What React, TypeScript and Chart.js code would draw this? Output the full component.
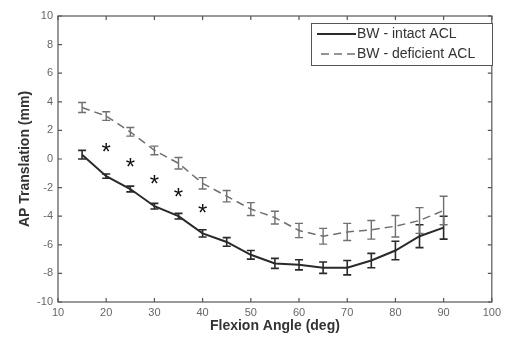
import React, { useEffect, useRef } from "react";
import { Chart, registerables } from "chart.js";

Chart.register(...registerables);

const angles = [15, 20, 25, 30, 35, 40, 45, 50, 55, 60, 65, 70, 75, 80, 85, 90];
const intactMean = [0.3, -1.2, -2.1, -3.3, -4.0, -5.2, -5.8, -6.7, -7.3, -7.4, -7.6, -7.6, -7.1, -6.4, -5.4, -4.8];
const intactErr = [0.3, 0.15, 0.2, 0.2, 0.2, 0.25, 0.3, 0.3, 0.35, 0.35, 0.4, 0.5, 0.5, 0.65, 0.8, 0.8];
const deficientMean = [3.6, 3.0, 1.9, 0.6, -0.3, -1.7, -2.6, -3.5, -4.1, -5.0, -5.4, -5.1, -4.95, -4.7, -4.3, -3.6];
const deficientErr = [0.35, 0.3, 0.3, 0.3, 0.4, 0.4, 0.4, 0.45, 0.45, 0.5, 0.55, 0.6, 0.65, 0.75, 0.9, 1.0];
const starAngles = [20, 25, 30, 35, 40];
const starValues = [0.8, -0.25, -1.5, -2.4, -3.5];
const xTicks = [10, 20, 30, 40, 50, 60, 70, 80, 90, 100];
const yTicks = [-10, -8, -6, -4, -2, 0, 2, 4, 6, 8, 10];
const seriesLabels = ["BW - intact ACL", "BW - deficient ACL"];

const FONT = "'Liberation Sans', Arial, sans-serif";
const INTACT_COLOR = "#2a2a2a";
const DEF_COLOR = "#707070";
const AXIS_COLOR = "#555555";

const overlayPlugin = {
  id: "overlay",
  afterDatasetsDraw(chart: any) {
    const ctx = chart.ctx;
    const xs = chart.scales.x;
    const ys = chart.scales.y;
    ctx.save();
    const series = [
      { mean: intactMean, err: intactErr, color: INTACT_COLOR, w: 1.6 },
      { mean: deficientMean, err: deficientErr, color: DEF_COLOR, w: 1.4 },
    ];
    series.forEach((s) => {
      ctx.strokeStyle = s.color;
      ctx.lineWidth = s.w;
      ctx.setLineDash([]);
      angles.forEach((a, i) => {
        const px = xs.getPixelForValue(a);
        const top = ys.getPixelForValue(s.mean[i] + s.err[i]);
        const bot = ys.getPixelForValue(s.mean[i] - s.err[i]);
        ctx.beginPath();
        ctx.moveTo(px, top);
        ctx.lineTo(px, bot);
        ctx.moveTo(px - 4, top);
        ctx.lineTo(px + 4, top);
        ctx.moveTo(px - 4, bot);
        ctx.lineTo(px + 4, bot);
        ctx.stroke();
      });
    });
    ctx.fillStyle = "#111";
    ctx.font = `24px ${FONT}`;
    ctx.textAlign = "center";
    ctx.textBaseline = "alphabetic";
    starAngles.forEach((a, i) => {
      const px = xs.getPixelForValue(a);
      const py = ys.getPixelForValue(starValues[i]);
      ctx.fillText("*", px, py + 12);
    });
    ctx.restore();
  },
  afterDraw(chart: any) {
    const ctx = chart.ctx;
    const xs = chart.scales.x;
    const ys = chart.scales.y;
    const a = chart.chartArea;
    ctx.save();
    ctx.strokeStyle = AXIS_COLOR;
    ctx.lineWidth = 1.2;
    ctx.setLineDash([]);
    ctx.strokeRect(a.left, a.top, a.right - a.left, a.bottom - a.top);
    const tl = 4;
    ctx.beginPath();
    xTicks.forEach((t) => {
      const px = xs.getPixelForValue(t);
      ctx.moveTo(px, a.bottom);
      ctx.lineTo(px, a.bottom - tl);
      ctx.moveTo(px, a.top);
      ctx.lineTo(px, a.top + tl);
    });
    yTicks.forEach((t) => {
      const py = ys.getPixelForValue(t);
      ctx.moveTo(a.left, py);
      ctx.lineTo(a.left + tl, py);
      ctx.moveTo(a.right, py);
      ctx.lineTo(a.right - tl, py);
    });
    ctx.stroke();

    const bx = 311, by = 23, bw = 181, bh = 42;
    ctx.fillStyle = "#ffffff";
    ctx.fillRect(bx, by, bw, bh);
    ctx.strokeStyle = AXIS_COLOR;
    ctx.lineWidth = 1;
    ctx.strokeRect(bx + 0.5, by + 0.5, bw, bh);
    const rows = [
      { y: by + 11, color: INTACT_COLOR, dash: [] as number[], w: 2, label: seriesLabels[0], x0: 317 },
      { y: by + 31, color: DEF_COLOR, dash: [8, 5], w: 1.5, label: seriesLabels[1], x0: 321 },
    ];
    ctx.font = `14px ${FONT}`;
    ctx.textAlign = "left";
    ctx.textBaseline = "middle";
    rows.forEach((r) => {
      ctx.strokeStyle = r.color;
      ctx.lineWidth = r.w;
      ctx.setLineDash(r.dash);
      ctx.beginPath();
      ctx.moveTo(r.x0, r.y);
      ctx.lineTo(356, r.y);
      ctx.stroke();
      ctx.fillStyle = "#333";
      ctx.fillText(r.label, 357, r.y);
    });
    ctx.restore();
  },
};

export default function App() {
  const ref = useRef<HTMLCanvasElement>(null);
  useEffect(() => {
    if (!ref.current) return;
    const chart = new Chart(ref.current, {
      type: "line",
      data: {
        datasets: [
          {
            label: seriesLabels[0],
            data: angles.map((a, i) => ({ x: a, y: intactMean[i] })),
            borderColor: INTACT_COLOR,
            borderWidth: 2,
            pointRadius: 0,
            tension: 0,
          },
          {
            label: seriesLabels[1],
            data: angles.map((a, i) => ({ x: a, y: deficientMean[i] })),
            borderColor: DEF_COLOR,
            borderWidth: 1.5,
            borderDash: [8, 5],
            pointRadius: 0,
            tension: 0,
          },
        ],
      },
      plugins: [overlayPlugin],
      options: {
        animation: false,
        responsive: false,
        events: [],
        layout: { padding: { top: 16, right: 8, left: 0, bottom: 0 } },
        plugins: { legend: { display: false }, tooltip: { enabled: false } },
        scales: {
          x: {
            type: "linear",
            min: 10,
            max: 100,
            afterBuildTicks: (s: any) => {
              s.ticks = xTicks.map((v) => ({ value: v }));
            },
            afterFit: (s: any) => {
              s.height = 35;
            },
            grid: { display: false, drawTicks: false },
            border: { display: false },
            ticks: {
              color: "#666",
              font: { family: FONT, size: 11 },
              padding: 4,
              maxRotation: 0,
            },
            title: {
              display: true,
              text: "Flexion Angle (deg)",
              color: "#333",
              font: { family: FONT, size: 14, weight: "bold" },
              padding: { top: 2, bottom: 2 },
            },
          },
          y: {
            type: "linear",
            min: -10,
            max: 10,
            afterBuildTicks: (s: any) => {
              s.ticks = yTicks.map((v) => ({ value: v }));
            },
            afterFit: (s: any) => {
              s.width = 58;
            },
            grid: { display: false, drawTicks: false },
            border: { display: false },
            ticks: {
              color: "#666",
              font: { family: FONT, size: 11 },
              padding: 5,
            },
            title: {
              display: true,
              text: "AP Translation (mm)",
              color: "#333",
              font: { family: FONT, size: 14, weight: "bold" },
              padding: { top: 17, bottom: 0 },
            },
          },
        },
      },
    } as any);
    return () => chart.destroy();
  }, []);
  return (
    <div style={{ position: "absolute", left: 0, top: 0, width: 505, height: 337, background: "#fff" }}>
      <canvas ref={ref} width={505} height={337} style={{ display: "block" }} />
    </div>
  );
}
